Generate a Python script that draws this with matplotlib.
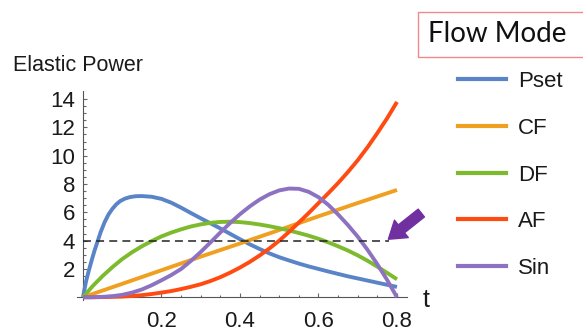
import matplotlib
matplotlib.use("Agg")
import matplotlib.pyplot as plt
from matplotlib.lines import Line2D
from matplotlib.patches import Rectangle
from matplotlib.ticker import FixedLocator

# --- data ---
t_pset = [0, 0.004, 0.008, 0.014, 0.022, 0.03, 0.037, 0.045, 0.055, 0.065, 0.075, 0.085,
          0.095, 0.107, 0.12, 0.135, 0.15, 0.175, 0.2, 0.225, 0.25, 0.275, 0.3, 0.325,
          0.35, 0.375, 0.4, 0.425, 0.45, 0.475, 0.5, 0.525, 0.55, 0.575, 0.6, 0.625,
          0.65, 0.675, 0.7, 0.725, 0.75, 0.775, 0.8]
pset = [0, 0.6, 1.15, 1.8, 2.6, 3.35, 3.93, 4.6, 5.3, 5.85, 6.25, 6.57,
        6.8, 6.97, 7.08, 7.14, 7.15, 7.1, 6.95, 6.68, 6.33, 5.95, 5.58, 5.22,
        4.86, 4.48, 4.1, 3.74, 3.41, 3.1, 2.83, 2.6, 2.38, 2.18, 2.0, 1.82,
        1.65, 1.48, 1.33, 1.18, 1.03, 0.88, 0.73]

t_cf = [0, 0.1, 0.2, 0.3, 0.4, 0.5, 0.6, 0.7, 0.8]
cf = [0, 0.95, 1.91, 2.87, 3.8, 4.75, 5.72, 6.66, 7.58]

t_df = [0, 0.025, 0.05, 0.075, 0.1, 0.125, 0.15, 0.175, 0.2, 0.225, 0.25, 0.275, 0.3,
        0.325, 0.35, 0.375, 0.4, 0.425, 0.45, 0.475, 0.5, 0.525, 0.55, 0.575, 0.6,
        0.625, 0.65, 0.675, 0.7, 0.725, 0.75, 0.775, 0.8]
df = [0, 0.8, 1.5, 2.13, 2.7, 3.18, 3.6, 3.97, 4.3, 4.57, 4.8, 5.0, 5.15,
      5.26, 5.32, 5.34, 5.31, 5.24, 5.14, 5.02, 4.88, 4.72, 4.54, 4.35, 4.13,
      3.88, 3.6, 3.3, 2.96, 2.58, 2.16, 1.72, 1.27]

t_af = [0, 0.025, 0.05, 0.075, 0.1, 0.125, 0.15, 0.175, 0.2, 0.225, 0.25, 0.275, 0.3,
        0.325, 0.35, 0.375, 0.4, 0.425, 0.45, 0.475, 0.5, 0.525, 0.55, 0.575, 0.6,
        0.625, 0.65, 0.675, 0.7, 0.725, 0.75, 0.775, 0.8]
af = [0, 0, 0.01, 0.03, 0.05, 0.09, 0.15, 0.23, 0.33, 0.44, 0.58, 0.74, 0.92,
      1.15, 1.42, 1.74, 2.1, 2.5, 2.95, 3.45, 4.0, 4.62, 5.28, 5.95, 6.65,
      7.35, 8.07, 8.85, 9.68, 10.6, 11.6, 12.65, 13.8]

t_sin = [0, 0.025, 0.05, 0.075, 0.1, 0.125, 0.15, 0.175, 0.2, 0.225, 0.25, 0.275, 0.3,
         0.325, 0.35, 0.375, 0.4, 0.425, 0.45, 0.475, 0.5, 0.525, 0.55, 0.575, 0.6,
         0.625, 0.65, 0.675, 0.7, 0.725, 0.75, 0.775, 0.8]
sin_ = [0, 0.005, 0.03, 0.08, 0.17, 0.33, 0.55, 0.85, 1.2, 1.57, 2.0, 2.57, 3.2,
        3.88, 4.58, 5.25, 5.87, 6.42, 6.9, 7.28, 7.55, 7.68, 7.66, 7.45, 7.07,
        6.53, 5.85, 5.1, 4.28, 3.35, 2.33, 1.22, 0]

threshold = 4
threshold_end = 0.78

labels = ["Pset", "CF", "DF", "AF", "Sin"]
colors = ["#5A84C8", "#F0A020", "#7DBA2E", "#FF4B12", "#8E72C2"]

W, H = 583, 335
fig = plt.figure(figsize=(W / 100, H / 100), dpi=100)
ax = fig.add_axes([77.1 / W, (H - 300.1) / H, 329.7 / W, 209.5 / H])

series = [(t_pset, pset), (t_cf, cf), (t_df, df), (t_af, af), (t_sin, sin_)]
for (tt, vv), c in zip(series, colors):
    ax.plot(tt, vv, color=c, lw=2.8, solid_capstyle="butt", solid_joinstyle="round",
            zorder=3)

ax.plot([0, threshold_end], [threshold, threshold], color="#222222", lw=1.1,
        dashes=(5.2, 3.4), zorder=4)

# purple arrow pointing at the threshold line
ax.annotate("", xy=(0.778, 4.1), xytext=(0.862, 5.95),
            arrowprops=dict(arrowstyle="simple,head_length=1.2,head_width=1.6,tail_width=0.72",
                            mutation_scale=10, color="#7030A0", shrinkA=0, shrinkB=0),
            annotation_clip=False, zorder=5)

ax.set_xlim(-0.015, 0.825)
ax.set_ylim(-0.2, 14.6)
for s in ["top", "right"]:
    ax.spines[s].set_visible(False)
for s in ["left", "bottom"]:
    ax.spines[s].set_position(("data", 0))
    ax.spines[s].set_color("#555555")
    ax.spines[s].set_linewidth(0.8)

ax.xaxis.set_major_locator(FixedLocator([0.2, 0.4, 0.6, 0.8]))
ax.xaxis.set_minor_locator(FixedLocator([0.05, 0.1, 0.15, 0.25, 0.3, 0.35, 0.45, 0.5,
                                         0.55, 0.65, 0.7, 0.75]))
ax.yaxis.set_major_locator(FixedLocator([2, 4, 6, 8, 10, 12, 14]))
ax.yaxis.set_minor_locator(FixedLocator([v / 2 for v in range(1, 29) if v % 4]))
ax.set_xticklabels(["0.2", "0.4", "0.6", "0.8"])
ax.set_yticklabels(["2", "4", "6", "8", "10", "12", "14"])

ax.tick_params(which="both", direction="in", color="#666666", width=0.8)
ax.tick_params(which="major", length=3.2)
ax.tick_params(which="minor", length=1.8)
ax.tick_params(axis="x", which="major", pad=10, labelsize=16, labelcolor="#1a1a1a")
ax.tick_params(axis="y", which="major", pad=5.5, labelsize=16, labelcolor="#1a1a1a")
for lab in ax.get_xticklabels() + ax.get_yticklabels():
    lab.set_family("Liberation Sans")

fig.text(13 / W, (H - 71) / H, "Elastic Power", fontsize=15.5, family="Liberation Sans",
         color="#1a1a1a", ha="left", va="baseline")
fig.text(426 / W, (H - 300) / H, "t", fontsize=18, family="Liberation Sans",
         color="#1a1a1a", ha="center", va="center")

# legend, drawn by hand
fig.patches.append(Rectangle((418 / W, (H - 56.7) / H), 0.3, 45 / H,
                             transform=fig.transFigure, fill=False,
                             edgecolor="#F08A8A", lw=1.0))
fig.text(428 / W, (H - 34) / H, "Flow Mode", fontsize=20, family="Lato",
         color="#111111", ha="left", va="center")
ys = [79, 125.7, 172.7, 219.3, 266]
for y, c, lab in zip(ys, colors, labels):
    fig.add_artist(Line2D([458 / W, 506 / W], [(H - y) / H] * 2, color=c, lw=3,
                          transform=fig.transFigure))
    fig.text(518 / W, (H - y - 8) / H, lab, fontsize=16, family="Liberation Sans",
             color="#1a1a1a", ha="left", va="baseline")

fig.savefig("out.png", dpi=100)
